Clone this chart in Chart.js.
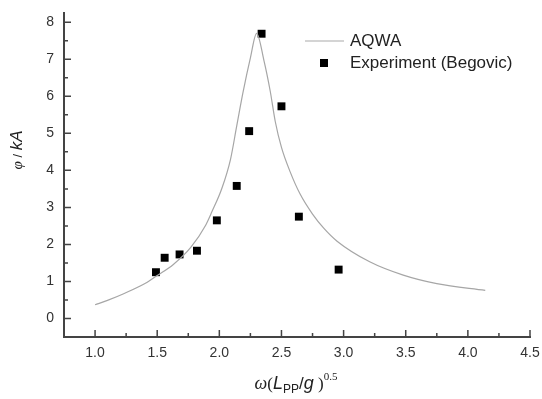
<!DOCTYPE html>
<html>
<head>
<meta charset="utf-8">
<script src="https://cdn.jsdelivr.net/npm/chart.js@4/dist/chart.umd.min.js"></script>
<style>
  html, body { margin: 0; padding: 0; background: #fff; }
  canvas { display: block; }
</style>
</head>
<body>
<canvas id="c" width="542" height="399"></canvas>
<script>
// AQWA calculation vs experiment — sway force amplitude against non-dimensional frequency

const aqwaX = [1.00, 1.10, 1.23, 1.42, 1.50, 1.63, 1.77, 1.89, 1.94, 2.02, 2.09, 2.14, 2.19, 2.25, 2.30,
               2.36, 2.41, 2.45, 2.50, 2.57, 2.65, 2.75, 2.84, 2.95, 3.21, 3.48, 3.75, 4.14];
const aqwaY = [0.37, 0.49, 0.67, 0.98, 1.16, 1.46, 1.92, 2.52, 2.88, 3.51, 4.30, 5.20, 6.10, 7.04, 7.70,
               6.95, 6.13, 5.32, 4.62, 3.96, 3.36, 2.82, 2.44, 2.08, 1.53, 1.17, 0.94, 0.76];

const expX = [1.49, 1.56, 1.68, 1.82, 1.98, 2.14, 2.24, 2.34, 2.50, 2.64, 2.96];
const expY = [1.25, 1.64, 1.73, 1.83, 2.65, 3.58, 5.06, 7.69, 5.73, 2.75, 1.32];

const xTicks = [1.0, 1.5, 2.0, 2.5, 3.0, 3.5, 4.0, 4.5];
const yTicks = [0, 1, 2, 3, 4, 5, 6, 7, 8];

const seriesNames = ['AQWA', 'Experiment (Begovic)'];

const SANS = '"Liberation Sans", Arial, sans-serif';
const SERIF = '"Liberation Serif", "Times New Roman", serif';
const INK = '#333';

// inward major/minor ticks, legend and the two axis titles with sub/superscripts
const decor = {
    id: 'decor',
    afterDraw(chart) {
        const ctx = chart.ctx;
        const xs = chart.scales.x, ys = chart.scales.y;
        const a = chart.chartArea;
        ctx.save();
        ctx.strokeStyle = '#444';
        ctx.lineWidth = 1.5;
        ctx.beginPath();
        for (const v of xTicks) {
            const px = xs.getPixelForValue(v);
            ctx.moveTo(px, a.bottom); ctx.lineTo(px, a.bottom - 7);
            const m = v - 0.25;
            if (m > xs.min) {
                const pm = xs.getPixelForValue(m);
                ctx.moveTo(pm, a.bottom); ctx.lineTo(pm, a.bottom - 4);
            }
        }
        for (const v of yTicks) {
            const py = ys.getPixelForValue(v);
            ctx.moveTo(a.left, py); ctx.lineTo(a.left + 7, py);
            const m = v + 0.5;
            if (m < ys.max) {
                const pm = ys.getPixelForValue(m);
                ctx.moveTo(a.left, pm); ctx.lineTo(a.left + 4, pm);
            }
        }
        ctx.stroke();

        // legend
        ctx.strokeStyle = '#aaa';
        ctx.lineWidth = 1.2;
        ctx.beginPath();
        ctx.moveTo(305, 41); ctx.lineTo(344, 41);
        ctx.stroke();
        ctx.fillStyle = '#000';
        ctx.fillRect(320, 59, 8, 8);
        ctx.fillStyle = '#222';
        ctx.font = '17px ' + SANS;
        ctx.textBaseline = 'middle';
        ctx.textAlign = 'left';
        ctx.fillText(seriesNames[0], 350, 41);
        ctx.fillText(seriesNames[1], 350, 63);

        // x title: ω(L_PP/g)^0.5
        const parts = [
            ['ω', 'italic 18px ' + SERIF, 0],
            ['(', '17px ' + SERIF, 0],
            ['L', 'italic 18px ' + SANS, 0],
            ['PP', '12px ' + SANS, 4],
            ['/', '17px ' + SANS, 0],
            ['g', 'italic 18px ' + SANS, 0],
            [' )', '17px ' + SERIF, 0],
            ['0.5', '11px ' + SERIF, -9]
        ];
        ctx.textBaseline = 'alphabetic';
        let w = 0;
        for (const p of parts) { ctx.font = p[1]; w += ctx.measureText(p[0]).width; }
        let x0 = 296 - w / 2;
        for (const p of parts) {
            ctx.font = p[1];
            ctx.fillText(p[0], x0, 389 + p[2]);
            x0 += ctx.measureText(p[0]).width;
        }

        // y title: φ / kA
        ctx.translate(22, 150);
        ctx.rotate(-Math.PI / 2);
        const yp = [
            ['φ', 'italic 15px ' + SERIF],
            [' / ', '13px ' + SANS],
            ['kA', 'italic 17px ' + SANS]
        ];
        w = 0;
        for (const p of yp) { ctx.font = p[1]; w += ctx.measureText(p[0]).width; }
        x0 = -w / 2;
        for (const p of yp) {
            ctx.font = p[1];
            ctx.fillText(p[0], x0, 0);
            x0 += ctx.measureText(p[0]).width;
        }
        ctx.restore();
    }
};

new Chart(document.getElementById('c'), {
    type: 'scatter',
    data: {
        datasets: [
            {
                label: seriesNames[0],
                data: aqwaX.map((x, i) => ({ x, y: aqwaY[i] })),
                showLine: true,
                borderColor: '#a6a6a6',
                borderWidth: 1.2,
                pointRadius: 0,
                cubicInterpolationMode: 'monotone',
                tension: 0.4
            },
            {
                label: seriesNames[1],
                data: expX.map((x, i) => ({ x, y: expY[i] })),
                pointStyle: 'rect',
                pointRadius: 5.6,
                backgroundColor: '#000',
                borderColor: '#000',
                borderWidth: 0
            }
        ]
    },
    options: {
        responsive: false,
        animation: false,
        devicePixelRatio: 1,
        layout: { padding: { left: 0, top: 13, right: 12, bottom: 0 } },
        plugins: {
            legend: { display: false },
            tooltip: { enabled: false }
        },
        scales: {
            x: {
                type: 'linear',
                min: 0.75, max: 4.5,
                afterBuildTicks: s => { s.ticks = xTicks.map(v => ({ value: v })); },
                afterFit: s => { s.height = 62; s.paddingLeft = 0; s.paddingRight = 0; },
                grid: { display: false, drawTicks: false },
                border: { display: true, color: '#444', width: 2 },
                ticks: {
                    padding: 8,
                    color: INK,
                    font: { family: SANS, size: 14 },
                    callback: v => v.toFixed(1)
                }
            },
            y: {
                type: 'linear',
                min: -0.5, max: 8.25,
                afterBuildTicks: s => { s.ticks = yTicks.map(v => ({ value: v })); },
                afterFit: s => { s.width = 64; s.paddingTop = 0; s.paddingBottom = 0; },
                grid: { display: false, drawTicks: false },
                border: { display: true, color: '#444', width: 2 },
                ticks: {
                    padding: 10,
                    color: INK,
                    font: { family: SANS, size: 14 },
                    callback: v => String(v)
                }
            }
        }
    },
    plugins: [decor]
});
</script>
</body>
</html>
